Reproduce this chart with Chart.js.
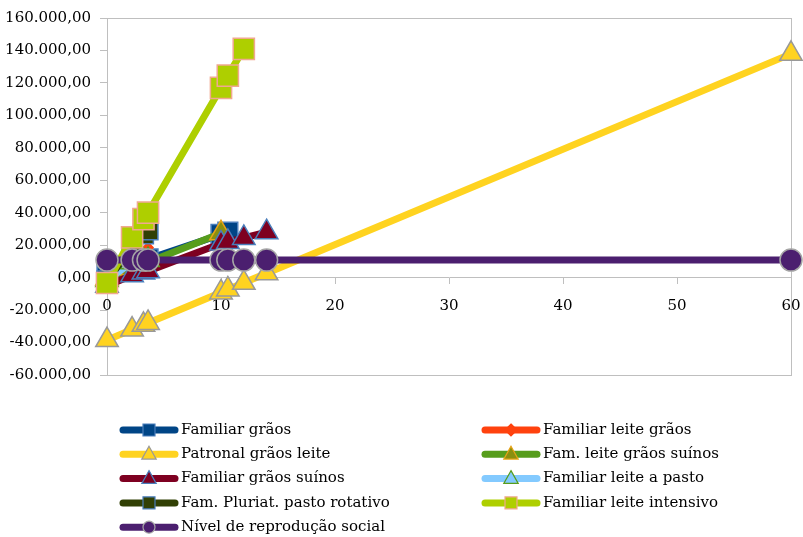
<!DOCTYPE html>
<html>
<head>
<meta charset="utf-8">
<script src="https://cdn.jsdelivr.net/npm/chart.js@4.4.1/dist/chart.umd.min.js"></script>
<style>
  body { margin: 0; background: #fff; }
  #wrap { position: relative; width: 803px; height: 537px; }
</style>
</head>
<body>
<div id="wrap"><canvas id="rendachart"></canvas></div>
<script>
// series names (legend order)
var seriesNames = [
    'Familiar grãos', 'Familiar leite grãos', 'Patronal grãos leite', 'Fam. leite grãos suínos',
    'Familiar grãos suínos', 'Familiar leite a pasto', 'Fam. Pluriat. pasto rotativo',
    'Familiar leite intensivo', 'Nível de reprodução social'
];

// values (x = area per worker, y = income)
var famGraosX = [0, 3.2, 3.6, 10, 10.6];
var famGraosY = [3000, 10500, 11500, 26600, 28000];

var famLeiteGraosX = [0, 2.2, 3.2, 3.6];
var famLeiteGraosY = [-2000, 10500, 16000, 18500];

var patronalX = [0, 2.2, 3.2, 3.6, 10, 10.6, 12, 14, 60];
var patronalY = [-38500, -32000, -29100, -27900, -9100, -7300, -3200, 2700, 137900];

var famLeiteSuinosX = [0, 2.2, 3.2, 3.6, 10];
var famLeiteSuinosY = [-500, 5600, 8400, 9500, 27300];

var famGraosSuinosX = [0, 2.2, 3.2, 3.6, 10, 10.6, 12, 14];
var famGraosSuinosY = [-5000, 1500, 3200, 4000, 21000, 22000, 24500, 28000];

var famLeitePastoX = [0, 2.2, 3.2, 3.6];
var famLeitePastoY = [-1500, 9500, 10500, 10800];

var pluriatX = [0, 2.2, 3.2, 3.6];
var pluriatY = [-2000, 19000, 27000, 29500];

var leiteIntensivoX = [0, 2.2, 3.2, 3.6, 10, 10.6, 12];
var leiteIntensivoY = [-3300, 24800, 36000, 40000, 117000, 124500, 141000];

var nivelX = [0, 2.2, 3.2, 3.6, 10, 10.6, 12, 14, 60];
var nivelY = [10800, 10800, 10800, 10800, 10800, 10800, 10800, 10800, 10800];

var xTickValues = [0, 10, 20, 30, 40, 50, 60];
var yTickValues = [-60000, -40000, -20000, 0, 20000, 40000, 60000, 80000, 100000, 120000, 140000, 160000];

var allX = [famGraosX, famLeiteGraosX, patronalX, famLeiteSuinosX, famGraosSuinosX, famLeitePastoX, pluriatX, leiteIntensivoX, nivelX];
var allY = [famGraosY, famLeiteGraosY, patronalY, famLeiteSuinosY, famGraosSuinosY, famLeitePastoY, pluriatY, leiteIntensivoY, nivelY];

// styles
var lineColors = ['#004586', '#ff420e', '#ffd320', '#579d1c', '#7e0021', '#83caff', '#314004', '#aecf00', '#4b1f6f'];
var markFill   = ['#004586', '#ff420e', '#ffd320', '#8a8f10', '#7e0021', '#83caff', '#314004', '#aecf00', '#4b1f6f'];
var markBorder = ['#4a7ebb', '#ff420e', '#999999', '#e8a317', '#4a7ebb', '#579d1c', '#4a7ebb', '#f0a890', '#a6a6a6'];
var markStyle  = ['rect', 'rectRot', 'triangle', 'triangle', 'triangle', 'triangle', 'rect', 'rect', 'circle'];
var markRadius = [14, 5, 13, 13, 13, 13, 14, 15, 11];

var FONT = '"DejaVu Serif", "Liberation Serif", serif';

function fmtBR(v) {
    var neg = v < 0;
    var parts = Math.abs(v).toFixed(2).split('.');
    var inteiro = parts[0].replace(/\B(?=(\d{3})+(?!\d))/g, '.');
    return (neg ? '-' : '') + inteiro + ',' + parts[1];
}

var datasets = seriesNames.map(function (name, i) {
    return {
        label: name,
        data: allX[i].map(function (x, j) { return { x: x, y: allY[i][j] }; }),
        showLine: true,
        borderColor: lineColors[i],
        borderWidth: 7,
        backgroundColor: markFill[i],
        pointStyle: markStyle[i],
        pointRadius: markRadius[i],
        pointBackgroundColor: markFill[i],
        pointBorderColor: markBorder[i],
        pointBorderWidth: 1.5,
        clip: false,
        order: seriesNames.length - i
    };
});

// box around the plot area + x labels under the zero line
var frame = {
    id: 'frame',
    beforeDatasetsDraw: function (chart) {
        var a = chart.chartArea, ctx = chart.ctx;
        ctx.save();
        ctx.strokeStyle = '#bfbfbf';
        ctx.lineWidth = 1;
        ctx.strokeRect(Math.round(a.left) + 0.5, Math.round(a.top) + 0.5, Math.round(a.right - a.left), Math.round(a.bottom - a.top));
        var xs = chart.scales.x, ys = chart.scales.y;
        var yBase = ys.getPixelForValue(0) + 28;
        ctx.fillStyle = '#000';
        ctx.font = '15px ' + FONT;
        ctx.textAlign = 'center';
        ctx.textBaseline = 'middle';
        xTickValues.forEach(function (v) {
            ctx.fillText(String(v), xs.getPixelForValue(v), yBase);
        });
        ctx.restore();
    }
};

function drawMark(ctx, style, r, x, y) {
    ctx.beginPath();
    if (style == 'rect') {
        ctx.rect(x - r, y - r, 2 * r, 2 * r);
    } else if (style == 'rectRot') {
        ctx.moveTo(x, y - r); ctx.lineTo(x + r, y); ctx.lineTo(x, y + r); ctx.lineTo(x - r, y);
        ctx.closePath();
    } else if (style == 'triangle') {
        ctx.moveTo(x, y - r); ctx.lineTo(x + r * 0.9, y + r * 0.6); ctx.lineTo(x - r * 0.9, y + r * 0.6);
        ctx.closePath();
    } else {
        ctx.arc(x, y, r, 0, Math.PI * 2);
    }
    ctx.fill();
    ctx.stroke();
}

// two column legend under the chart
var legendBox = {
    id: 'legendBox',
    afterDraw: function (chart) {
        var ctx = chart.ctx;
        ctx.save();
        seriesNames.forEach(function (name, i) {
            var x0 = (i % 2) ? 482 : 120;
            var y = 430 + Math.floor(i / 2) * 24.3;
            ctx.strokeStyle = lineColors[i];
            ctx.lineWidth = 7;
            ctx.lineCap = 'round';
            ctx.beginPath();
            ctx.moveTo(x0 + 3, y); ctx.lineTo(x0 + 55, y);
            ctx.stroke();
            ctx.lineCap = 'butt';
            ctx.fillStyle = markFill[i];
            ctx.strokeStyle = markBorder[i];
            ctx.lineWidth = 1.2;
            var rr = markStyle[i] == 'rect' ? 6 : (markStyle[i] == 'triangle' ? 8 : 6);
            drawMark(ctx, markStyle[i], rr, x0 + 29, y);
            ctx.fillStyle = '#000';
            ctx.font = '15px ' + FONT;
            ctx.textBaseline = 'middle';
            ctx.textAlign = 'left';
            ctx.fillText(name, x0 + 61, y);
        });
        ctx.restore();
    }
};

var ctx = document.getElementById('rendachart');
var rendaChart = new Chart(ctx, {
    type: 'scatter',
    data: { datasets: datasets },
    options: {
        responsive: true,
        maintainAspectRatio: false,
        animation: false,
        events: [],
        layout: { autoPadding: false, padding: { top: 16, right: 12, bottom: 162, left: 0 } },
        plugins: {
            legend: { display: false },
            tooltip: { enabled: false }
        },
        scales: {
            x: {
                type: 'linear',
                position: { y: 0 },
                min: 0,
                max: 60,
                afterBuildTicks: function (scale) {
                    scale.ticks = xTickValues.map(function (v) { return { value: v }; });
                },
                ticks: { display: false },
                grid: { drawOnChartArea: false, tickLength: 6, color: '#bfbfbf' },
                border: { color: '#bfbfbf', width: 1 }
            },
            y: {
                type: 'linear',
                min: -60000,
                max: 160000,
                afterBuildTicks: function (scale) {
                    scale.ticks = yTickValues.map(function (v) { return { value: v }; });
                },
                afterFit: function (scale) { scale.width = 107; },
                ticks: {
                    color: '#000',
                    padding: 9,
                    font: { family: FONT, size: 15 },
                    callback: function (v) { return fmtBR(v); }
                },
                grid: { drawOnChartArea: false, tickLength: 7, color: '#bfbfbf' },
                border: { color: '#bfbfbf', width: 1 }
            }
        }
    },
    plugins: [frame, legendBox]
});
</script>
</body>
</html>
